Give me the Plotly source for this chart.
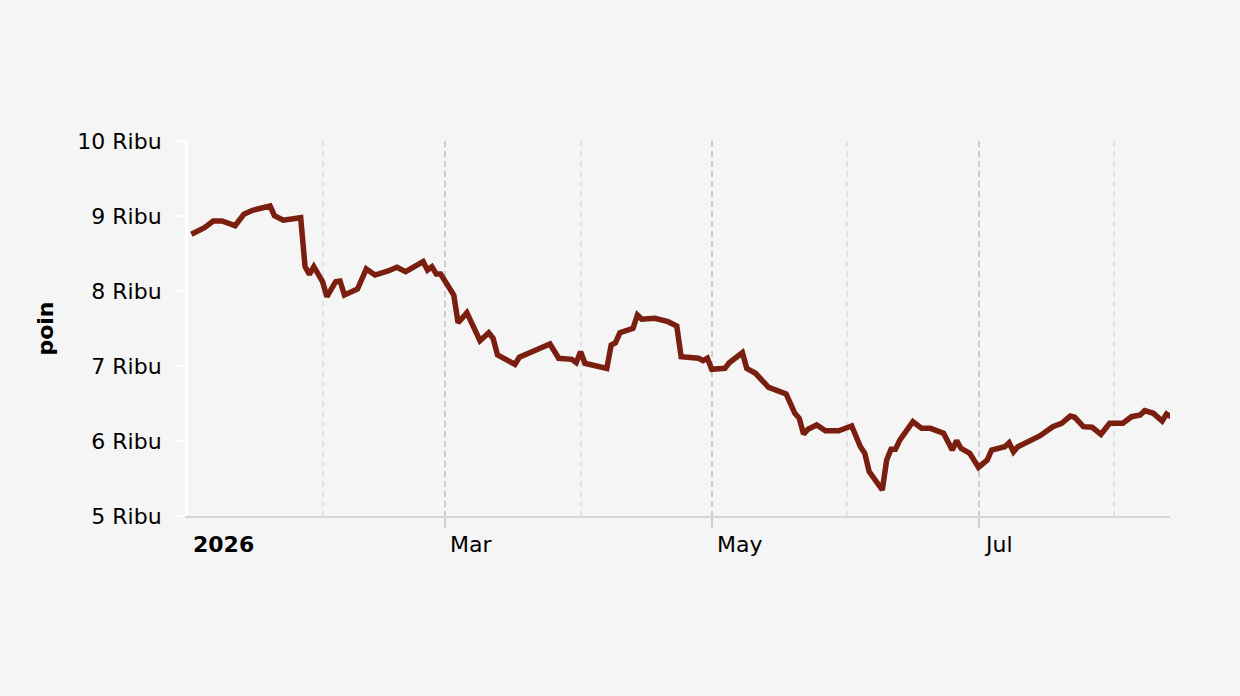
import plotly.graph_objects as go

# Data (index level, points)
dates = [
    "2026-01-02", "2026-01-05", "2026-01-07", "2026-01-08", "2026-01-09",
    "2026-01-12", "2026-01-14", "2026-01-16", "2026-01-20", "2026-01-21",
    "2026-01-23", "2026-01-27", "2026-01-28", "2026-01-29", "2026-01-30",
    "2026-02-01", "2026-02-02", "2026-02-04", "2026-02-05", "2026-02-06",
    "2026-02-09", "2026-02-11", "2026-02-13", "2026-02-16", "2026-02-18",
    "2026-02-20", "2026-02-24", "2026-02-25", "2026-02-26", "2026-02-27",
    "2026-02-28", "2026-03-03", "2026-03-04", "2026-03-06", "2026-03-07",
    "2026-03-09", "2026-03-11", "2026-03-12", "2026-03-13", "2026-03-17",
    "2026-03-18", "2026-03-25", "2026-03-27", "2026-03-30", "2026-03-31",
    "2026-04-01", "2026-04-02", "2026-04-07", "2026-04-08", "2026-04-09",
    "2026-04-10", "2026-04-13", "2026-04-14", "2026-04-15", "2026-04-18",
    "2026-04-21", "2026-04-23", "2026-04-24", "2026-04-28", "2026-04-29",
    "2026-04-30", "2026-05-01", "2026-05-04", "2026-05-05", "2026-05-08",
    "2026-05-09", "2026-05-11", "2026-05-14", "2026-05-18", "2026-05-20",
    "2026-05-21", "2026-05-22", "2026-05-23", "2026-05-25", "2026-05-27",
    "2026-05-30", "2026-06-02", "2026-06-04", "2026-06-05", "2026-06-06",
    "2026-06-09", "2026-06-10", "2026-06-11", "2026-06-12", "2026-06-13",
    "2026-06-16", "2026-06-17", "2026-06-18", "2026-06-20", "2026-06-23",
    "2026-06-25", "2026-06-26", "2026-06-27", "2026-06-29", "2026-07-01",
    "2026-07-03", "2026-07-04", "2026-07-07", "2026-07-08", "2026-07-09",
    "2026-07-10", "2026-07-14", "2026-07-15", "2026-07-18", "2026-07-20",
    "2026-07-22", "2026-07-23", "2026-07-25", "2026-07-27", "2026-07-29",
    "2026-07-31", "2026-08-03", "2026-08-05", "2026-08-07", "2026-08-08",
    "2026-08-10", "2026-08-12", "2026-08-13", "2026-08-14",
]
values = [
    8756, 8844, 8933, 8924, 8933,
    8871, 9023, 9076, 9133, 9004,
    8943, 8977, 8324, 8223, 8324,
    8124, 7924, 8124, 8133, 7947,
    8027, 8293, 8213, 8267, 8316,
    8257, 8391, 8280, 8324, 8227,
    8227, 7947, 7577, 7711, 7591,
    7337, 7444, 7369, 7147, 7023,
    7116, 7293, 7103, 7089, 7044,
    7191, 7036, 6969, 7280, 7311,
    7444, 7503, 7680, 7623, 7636,
    7591, 7533, 7124, 7103, 7071,
    7103, 6956, 6969, 7044, 7177,
    6969, 6903, 6716, 6627, 6369,
    6303, 6093, 6156, 6213, 6137,
    6137, 6200, 5924, 5836, 5591,
    5347, 5747, 5889, 5889, 6013,
    6257, 6213, 6169, 6169, 6103,
    5880, 6004, 5903, 5836, 5649,
    5747, 5880, 5924, 5977, 5857,
    5924, 6049, 6067, 6191, 6236,
    6333, 6316, 6191, 6183, 6089,
    6236, 6236, 6324, 6347, 6404,
    6369, 6267, 6360, 6324,
]

y_ticks = [5000, 6000, 7000, 8000, 9000, 10000]
y_labels = ["5 Ribu", "6 Ribu", "7 Ribu", "8 Ribu", "9 Ribu", "10 Ribu"]

x_start = "2026-01-01 05:30"
x_end = "2026-08-13 19:00"
major_months = ["2026-03-01", "2026-05-01", "2026-07-01"]
minor_months = ["2026-02-01", "2026-04-01", "2026-06-01", "2026-08-01"]
x_label_dates = [x_start, "2026-03-01", "2026-05-01", "2026-07-01"]
x_labels = ["<b>2026</b>", "Mar", "May", "Jul"]

bg = "#f5f5f5"
font = "DejaVu Sans"

fig = go.Figure()
fig.add_trace(go.Scatter(
    x=dates, y=values, mode="lines",
    line=dict(color="#7a1f0f", width=5.5),
    hoverinfo="x+y", showlegend=False,
))

# month labels sit just to the right of their tick
for d, t in zip(x_label_dates, x_labels):
    fig.add_annotation(
        x=d, y=-0.075, xref="x", yref="paper", text=t, showarrow=False,
        xanchor="left", yanchor="middle", xshift=3,
        font=dict(family=font, size=22, color="#000000"),
    )

fig.update_layout(
    width=1240, height=696,
    paper_bgcolor=bg, plot_bgcolor=bg,
    margin=dict(l=188, r=70, t=141, b=180),
    font=dict(family=font, size=22, color="#000000"),
    showlegend=False,
)

fig.update_xaxes(
    type="date",
    range=[x_start, x_end],
    tickmode="array", tickvals=major_months, showticklabels=False,
    ticks="outside", ticklen=10, tickwidth=2, tickcolor="#d0d0d0",
    showgrid=True, gridcolor="#cccccc", gridwidth=1.5, griddash="6px,4px",
    minor=dict(tickmode="array", tickvals=minor_months, showgrid=True,
               gridcolor="#e2e2e2", gridwidth=1.5, griddash="6px,4px", ticks=""),
    showline=True, linecolor="#d6d6d6", linewidth=2,
    zeroline=False,
)

fig.update_yaxes(
    range=[5000, 10000],
    tickmode="array", tickvals=y_ticks, ticktext=y_labels,
    ticks="outside", ticklen=10, tickwidth=2, tickcolor="#ffffff",
    ticklabelstandoff=9,
    showline=True, linecolor="#ffffff", linewidth=3,
    showgrid=False, zeroline=False,
    title=dict(text="<b>poin</b>", standoff=18, font=dict(size=22)),
)

fig.write_html(
    "out.html",
    config={"displayModeBar": False},
    post_script="document.body.style.margin='0';document.body.style.background='#f5f5f5';",
)
